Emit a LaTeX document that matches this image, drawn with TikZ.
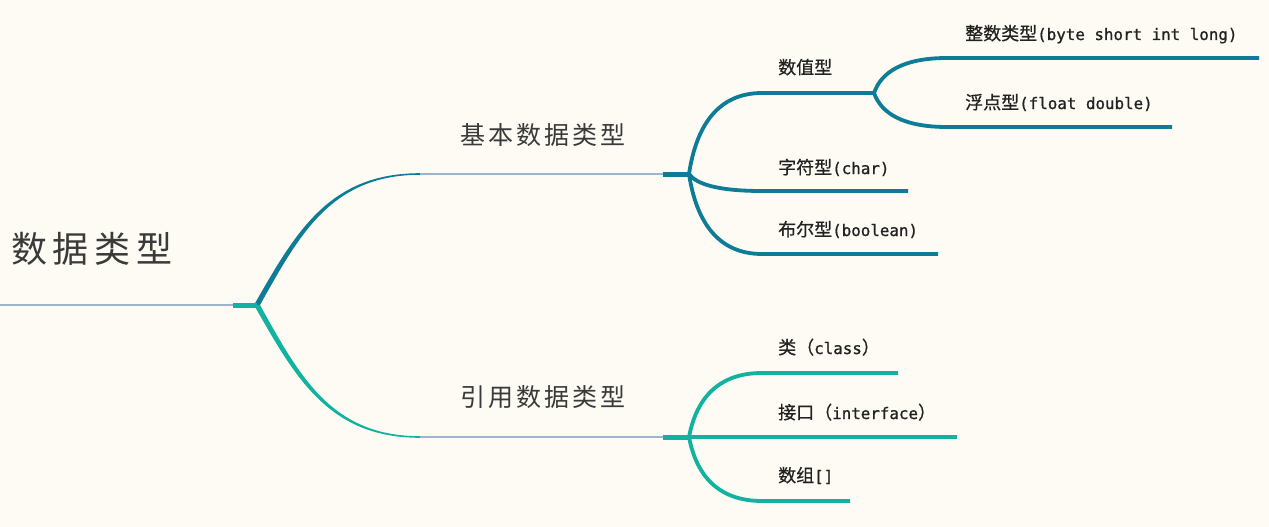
\documentclass[tikz,border=0pt]{standalone}
\usepackage{fontspec}
\usetikzlibrary{calc}
\setmonofont[Scale=0.88, FakeBold=1]{DejaVu Sans Mono}
\newfontfamily\cjk[FakeBold=0.6]{Noto Sans CJK SC}
\newfontfamily\cjkmid[LetterSpace=12]{Noto Sans CJK SC}
\newfontfamily\cjkroot[LetterSpace=16]{Noto Sans CJK SC}
\definecolor{paper}{RGB}{253,251,244}
\definecolor{deepteal}{RGB}{14,124,150}
\definecolor{aqua}{RGB}{18,178,160}
\definecolor{stem}{RGB}{158,180,204}
\definecolor{ink}{RGB}{34,34,34}
\definecolor{inkgray}{RGB}{58,58,58}
\newcommand{\mixlbl}[2]{{\cjk #1}{\ttfamily #2}}
\tikzset{
  % curve from a junction out to a horizontal line, args: a, b, c
  bend/.style n args={3}{to path={let \p1=(\tikztostart), \p2=(\tikztotarget) in
      .. controls ({\x1+#1*(\x2-\x1)},{\y1+#2*(\y2-\y1)}) and ({\x1+#3*(\x2-\x1)},{\y2}) .. (\tikztotarget)}},
  % the same curve, run backwards
  bendback/.style n args={3}{to path={let \p1=(\tikztostart), \p2=(\tikztotarget) in
      .. controls ({\x2+#3*(\x1-\x2)},{\y1}) and ({\x2+#1*(\x1-\x2)},{\y2+#2*(\y1-\y2)}) .. (\tikztotarget)}},
  curve/.style={bend={0.1}{0.6}{0.4}},
  bough/.style={bend={0.25}{0.55}{0.45}},
  boughback/.style={bendback={0.25}{0.55}{0.45}},
  stemline/.style={stem, line width=2.2pt},
  stub/.style={line width=5pt},
  twig/.style={line width=3.8pt},
  leaflbl/.style={anchor=base west, inner sep=0pt, text=ink, font=\cjk\fontsize{18}{20}\selectfont},
  midlbl/.style={anchor=base west, inner sep=0pt, text=inkgray, font=\cjkmid\fontsize{25}{28}\selectfont},
  rootlbl/.style={anchor=base west, inner sep=0pt, text=inkgray, font=\cjkroot\fontsize{36}{40}\selectfont}
}
\begin{document}
\begin{tikzpicture}[x=1pt,y=-1pt]
    % frame
    \fill[paper] (0,0) rectangle (1269,527);
    \useasboundingbox (0,0) rectangle (1269,527);
    % Root
    \node[rootlbl] (root) at (11,262) {数据类型};
    \coordinate (rs) at (0,305);
    \coordinate (rk) at (233,305);
    \coordinate (rj) at (257,305);
    \draw[stemline] (rs) -- (rk);
    % Basic types
    \coordinate (bs) at (420,174);
    \coordinate (bk) at (663,174);
    \coordinate (bj) at (689,174);
    \fill[deepteal] ($(rj)+(-3,0)$) to[bough] ($(bs)+(0,-0.8)$) -- ($(bs)+(0,0.8)$)
        to[boughback] ($(rj)+(3,0)$) -- cycle;
    \draw[stemline] (bs) -- (bk);
    \draw[deepteal, stub] (bk) -- (bj);
    \node[midlbl] (basic) at (460,144) {基本数据类型};
    % Reference types
    \coordinate (ys) at (420,437);
    \coordinate (yk) at (663,437);
    \coordinate (yj) at (689,437);
    \fill[aqua] ($(rj)+(-3,0)$) to[bough] ($(ys)+(0,0.8)$) -- ($(ys)+(0,-0.8)$)
        to[boughback] ($(rj)+(3,0)$) -- cycle;
    \draw[stemline] (ys) -- (yk);
    \draw[aqua, stub] (yk) -- (yj);
    \node[midlbl] (refer) at (460,406) {引用数据类型};
    \draw[aqua, stub] (rk) -- (rj);
    % Numeric
    \coordinate (szs) at (762,93);
    \coordinate (szj) at (874,93);
    \draw[deepteal, twig] (bj) to[curve] (szs) -- (szj);
    \node[leaflbl] (numeric) at (778,74) {数值型};
    % Integer
    \coordinate (zss) at (947,58);
    \coordinate (zse) at (1259,58);
    \draw[deepteal, twig] (szj) to[curve] (zss) -- (zse);
    \node[leaflbl] (integer) at (965,40) {\mixlbl{整数类型}{(byte short int long)}};
    % Float
    \coordinate (fds) at (947,127);
    \coordinate (fde) at (1172,127);
    \draw[deepteal, twig] (szj) to[curve] (fds) -- (fde);
    \node[leaflbl] (float) at (965,109) {\mixlbl{浮点型}{(float double)}};
    % Char
    \coordinate (zfs) at (762,191);
    \coordinate (zfe) at (908,191);
    \draw[deepteal, twig] (bj) to[curve] (zfs) -- (zfe);
    \node[leaflbl] (char) at (778,174) {\mixlbl{字符型}{(char)}};
    % Boolean
    \coordinate (bes) at (762,254);
    \coordinate (bee) at (938,254);
    \draw[deepteal, twig] (bj) to[curve] (bes) -- (bee);
    \node[leaflbl] (bool) at (778,236) {\mixlbl{布尔型}{(boolean)}};
    % Class
    \coordinate (cls) at (762,373);
    \coordinate (cle) at (898,373);
    \draw[aqua, twig] (yj) to[curve] (cls) -- (cle);
    \node[leaflbl] (class) at (778,354) {类（\texttt{class}）};
    % Interface
    \coordinate (ife) at (957,437);
    \draw[aqua, twig] (yk) -- (ife);
    \node[leaflbl] (iface) at (778,419) {接口（\texttt{interface}）};
    % Array
    \coordinate (ars) at (762,501);
    \coordinate (are) at (850,501);
    \draw[aqua, twig] (yj) to[curve] (ars) -- (are);
    \node[leaflbl] (array) at (778,482) {\mixlbl{数组}{[]}};
\end{tikzpicture}
\end{document}
